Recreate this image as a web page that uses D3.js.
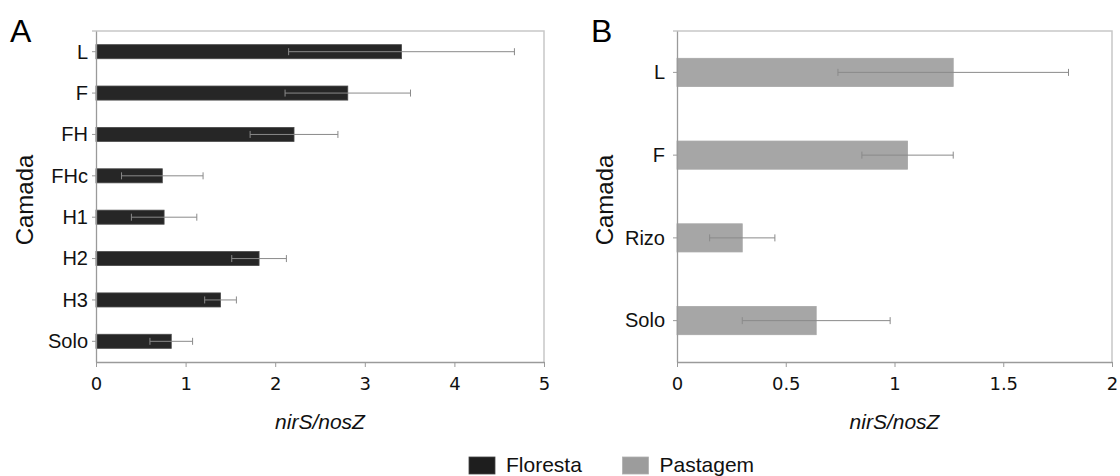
<!DOCTYPE html>
<html>
<head>
<meta charset="utf-8">
<script src="https://cdn.jsdelivr.net/npm/d3@7"></script>
<style>
  html, body { margin: 0; padding: 0; background: #fff; }
  svg { display: block; }
</style>
</head>
<body>
<svg id="chart" width="1120" height="476"></svg>
<script>
// ---- data ----
const catsA = ["L", "F", "FH", "FHc", "H1", "H2", "H3", "Solo"];
const valsA = [3.41, 2.81, 2.21, 0.74, 0.76, 1.82, 1.39, 0.84];
const errA  = [1.26, 0.70, 0.49, 0.455, 0.365, 0.305, 0.177, 0.238];

const catsB = ["L", "F", "Rizo", "Solo"];
const valsB = [1.27, 1.06, 0.30, 0.64];
const errB  = [0.53, 0.21, 0.15, 0.34];

const ticksA = [0, 1, 2, 3, 4, 5];
const ticksB = [0, 0.5, 1, 1.5, 2];

const seriesNames = ["Floresta", "Pastagem"];
const panelLetters = ["A", "B"];
const axisTitleX = "nirS/nosZ";
const axisTitleY = "Camada";

// ---- drawing ----
const svg = d3.select("#chart");
const colors = ["#262626", "#a6a6a6"];
const strokes = ["#4a4a4a", "#a6a6a6"];
const legendColors = ["#1e1e1e", "#9c9c9c"];

const plotTop = 31, plotBottom = 362;

function panel(cfg) {
  const g = svg.append("g");
  const x = d3.scaleLinear().domain(cfg.domain).range([cfg.left, cfg.right]);
  const y = d3.scaleBand().domain(cfg.cats).range([plotTop, plotBottom])
    .paddingInner(0.66).paddingOuter(0.33);

  // frame (top & right)
  g.append("path")
    .attr("d", `M${cfg.left - 4},${plotTop}H${cfg.right}V${plotBottom}`)
    .attr("fill", "none").attr("stroke", "#c8c8c8").attr("stroke-width", 1.5);

  // bars
  g.selectAll("rect.bar").data(cfg.cats).enter().append("rect")
    .attr("class", "bar")
    .attr("x", x(0))
    .attr("y", d => y(d))
    .attr("width", (d, i) => x(cfg.vals[i]) - x(0))
    .attr("height", y.bandwidth())
    .attr("fill", colors[cfg.series])
    .attr("stroke", strokes[cfg.series])
    .attr("stroke-width", 0.8);

  // error bars
  const eg = g.append("g").attr("stroke", "#8a8a8a").attr("stroke-width", 1).attr("fill", "none");
  cfg.cats.forEach((c, i) => {
    const cy = y(c) + y.bandwidth() / 2;
    const x1 = x(cfg.vals[i] - cfg.errs[i]);
    const x2 = x(cfg.vals[i] + cfg.errs[i]);
    eg.append("line").attr("x1", x1).attr("x2", x2).attr("y1", cy).attr("y2", cy);
    eg.append("line").attr("x1", x1).attr("x2", x1).attr("y1", cy - 3.5).attr("y2", cy + 3.5);
    eg.append("line").attr("x1", x2).attr("x2", x2).attr("y1", cy - 3.5).attr("y2", cy + 3.5);
  });

  // y axis
  const ya = g.append("g").attr("transform", `translate(${cfg.left},0)`)
    .call(d3.axisLeft(y).tickSize(4).tickPadding(cfg.yPad).tickSizeOuter(0));
  ya.select(".domain").attr("stroke", "#9a9a9a").attr("stroke-width", 1.3);
  ya.selectAll(".tick line").attr("stroke", "#9a9a9a");
  ya.selectAll(".tick text")
    .attr("font-family", "'Liberation Sans', Arial, sans-serif")
    .attr("font-size", 20).attr("fill", "#111").attr("dy", "0.34em");

  // x axis
  const xa = g.append("g").attr("transform", `translate(0,${plotBottom})`)
    .call(d3.axisBottom(x).tickValues(cfg.ticks).tickFormat(d3.format("~g"))
      .tickSize(5).tickPadding(0).tickSizeOuter(0));
  xa.select(".domain").attr("stroke", "#9a9a9a").attr("stroke-width", 1.3);
  xa.selectAll(".tick line").attr("stroke", "#9a9a9a");
  xa.selectAll(".tick text")
    .attr("font-family", "'DejaVu Sans', Verdana, sans-serif")
    .attr("font-size", 18).attr("fill", "#111")
    .attr("y", 28).attr("dy", 0);

  // axis titles
  g.append("text")
    .attr("x", (cfg.left + cfg.right) / 2).attr("y", 429)
    .attr("text-anchor", "middle")
    .attr("font-family", "'Liberation Sans', Arial, sans-serif")
    .attr("font-style", "italic").attr("font-size", 21).attr("fill", "#111")
    .text(axisTitleX);

  g.append("text")
    .attr("transform", `translate(${cfg.titleX},200) rotate(-90)`)
    .attr("text-anchor", "middle")
    .attr("font-family", "'Liberation Sans', Arial, sans-serif")
    .attr("font-size", 24).attr("fill", "#111")
    .text(axisTitleY);

  // panel letter
  g.append("text")
    .attr("x", cfg.letterX).attr("y", 42)
    .attr("font-family", "'Liberation Sans', Arial, sans-serif")
    .attr("font-size", 32).attr("fill", "#000")
    .text(cfg.letter);
}

panel({ cats: catsA, vals: valsA, errs: errA, ticks: ticksA, domain: [0, 5],
        left: 96, right: 544, series: 0, yPad: 4, titleX: 33, letterX: 10,
        letter: panelLetters[0] });
panel({ cats: catsB, vals: valsB, errs: errB, ticks: ticksB, domain: [0, 2],
        left: 677, right: 1112, series: 1, yPad: 8, titleX: 613, letterX: 591,
        letter: panelLetters[1] });

// legend
const legendX = [469, 622.5];
const lg = svg.append("g");
seriesNames.forEach((name, i) => {
  lg.append("rect").attr("x", legendX[i]).attr("y", 457).attr("width", 26).attr("height", 17)
    .attr("fill", legendColors[i]).attr("stroke", i === 0 ? "#444" : "#b0b0b0").attr("stroke-width", 0.8);
  lg.append("text").attr("x", legendX[i] + 37).attr("y", 472)
    .attr("font-family", "'Liberation Sans', Arial, sans-serif")
    .attr("font-size", 21).attr("fill", "#111")
    .text(name);
});
</script>
</body>
</html>
